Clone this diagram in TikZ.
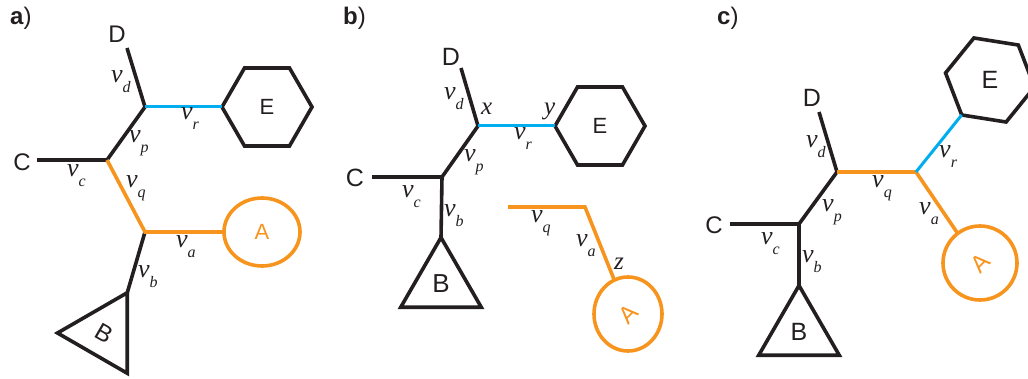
\documentclass[tikz,border=0pt]{standalone}
\usepackage{fontspec}
\setmainfont{Liberation Sans}
\newfontfamily\serifit{Liberation Serif}
\usetikzlibrary{shapes.geometric}
\definecolor{blk}{HTML}{231F20}
\definecolor{org}{HTML}{F7941D}
\definecolor{cyn}{HTML}{00AEEF}
\newcommand{\fs}[1]{\fontsize{#1}{#1}\selectfont}
\newcommand{\vsub}[1]{{\serifit\itshape\fs{26}v\kern0pt\raisebox{-10pt}{\fs{16}#1}}}
\newcommand{\ivar}[1]{{\serifit\itshape\fs{25}#1}}
\begin{document}
\begin{tikzpicture}[x=1pt,y=-1pt,
  br/.style={draw=blk, line width=3.6pt},
  og/.style={draw=org, line width=3.6pt},
  bl/.style={draw=cyn, line width=3pt},
  hex/.style={regular polygon, regular polygon sides=6, minimum size=90pt, inner sep=0pt, outer sep=0pt, draw=blk, line width=3.6pt, text=blk},
  tri/.style={regular polygon, regular polygon sides=3, minimum size=93pt, inner sep=0pt, outer sep=0pt, draw=blk, line width=3.6pt, text=blk},
  circA/.style={ellipse, draw=org, line width=3.6pt, text=org, inner sep=0pt, outer sep=0pt},
  lab/.style={inner sep=0pt, anchor=base west, text=blk},
  capl/.style={inner sep=0pt, text=blk}]
\useasboundingbox (0,0) rectangle (1028,379);
\clip (0,0) rectangle (1028,379);

% ---------- panel a ----------
\node[lab] (la) at (10,25) {\fs{24}\textbf{a})};
\coordinate (aD) at (127,48);
\coordinate (a1) at (145,107);
\coordinate (a2) at (107,160);
\coordinate (a3) at (145,232);
\coordinate (aC) at (37,160);
\node[hex] (aE) at (267,107) {\fs{22}E};
\node[circA, minimum width=76pt, minimum height=68pt] (aA) at (262,232) {\fs{22}A};
\node[tri, rotate=-30] (aB) at (104,333) {\fs{24}B};
\draw[br] (aD) -- (a1) -- (a2) -- (aC);
\draw[br] (a3) -- (aB.corner 1);
\draw[bl] (a1) -- (aE.corner 3);
\draw[og] (a2) -- (a3) -- (aA.west);
\node[capl] (aDl) at (117,34) {\fs{24}D};
\node[capl] (aCl) at (22,162) {\fs{24}C};
\node[lab] (avd) at (111,82.7) {\vsub{d}};
\node[lab] (avr) at (181,120) {\vsub{r}};
\node[lab] (avp) at (129,143) {\vsub{p}};
\node[lab] (avc) at (67,177) {\vsub{c}};
\node[lab] (avq) at (126,188) {\vsub{q}};
\node[lab] (ava) at (176,248) {\vsub{a}};
\node[lab] (avb) at (138,278) {\vsub{b}};

% ---------- panel b ----------
\node[lab] (lb) at (343,25) {\fs{24}\textbf{b})};
\coordinate (bD) at (461,68);
\coordinate (b1) at (478,126);
\coordinate (b2) at (442,177);
\coordinate (bC) at (372,177);
\coordinate (bq1) at (508,207);
\coordinate (bq2) at (585,207);
\node[hex] (bE) at (600,126) {\fs{22}E};
\node[tri] (bB) at (441,284) {\fs{26}B};
\node[circA, minimum width=68pt, minimum height=74pt] (bA) at (628,314) {\rotatebox{45}{\fs{24}A}};
\draw[br] (bD) -- (b1) -- (b2) -- (bC);
\draw[br] (b2) -- (bB.corner 1);
\draw[bl] (b1) -- (bE.corner 3);
\draw[og] (bq1) -- (bq2) -- (bA.112);
\node[capl] (bDl) at (451,57) {\fs{25}D};
\node[capl] (bCl) at (355,178) {\fs{25}C};
\node[lab] (bvd) at (444,100) {\vsub{d}};
\node[lab] (bx) at (481,115) {\ivar{x}};
\node[lab] (by) at (544,115) {\ivar{y}};
\node[lab] (bvr) at (514,140) {\vsub{r}};
\node[lab] (bvp) at (464,162) {\vsub{p}};
\node[lab] (bvc) at (402,198) {\vsub{c}};
\node[lab] (bvb) at (444,217) {\vsub{b}};
\node[lab] (bvq) at (531,223) {\vsub{q}};
\node[lab] (bva) at (576,247) {\vsub{a}};
\node[lab] (bz) at (614,270) {\ivar{z}};

% ---------- panel c ----------
\node[lab] (lc) at (717,25) {\fs{24}\textbf{c})};
\coordinate (cD) at (819,112);
\coordinate (c1) at (837,172);
\coordinate (c2) at (916,172);
\coordinate (c3) at (799,224);
\coordinate (cC) at (730,224);
\node[hex, shape border rotate=51] (cE) at (990,80) {\fs{25}E};
\node[tri] (cB) at (799,332) {\fs{25}B};
\node[circA, minimum size=74pt] (cA) at (980,263) {\rotatebox{45}{\fs{24}A}};
\draw[br] (cD) -- (c1) -- (c3) -- (cC);
\draw[br] (c3) -- (cB.corner 1);
\draw[og] (c1) -- (c2) -- (cA.127);
\draw[bl] (c2) -- (cE.corner 3);
\node[capl] (cDl) at (812,98) {\fs{25}D};
\node[capl] (cCl) at (714,225) {\fs{24}C};
\node[lab] (cvd) at (806,148) {\vsub{d}};
\node[lab] (cvq) at (872,188) {\vsub{q}};
\node[lab] (cvr) at (939,158) {\vsub{r}};
\node[lab] (cvp) at (822,212) {\vsub{p}};
\node[lab] (cva) at (919,215) {\vsub{a}};
\node[lab] (cvc) at (761,245) {\vsub{c}};
\node[lab] (cvb) at (802,263) {\vsub{b}};
\end{tikzpicture}
\end{document}
